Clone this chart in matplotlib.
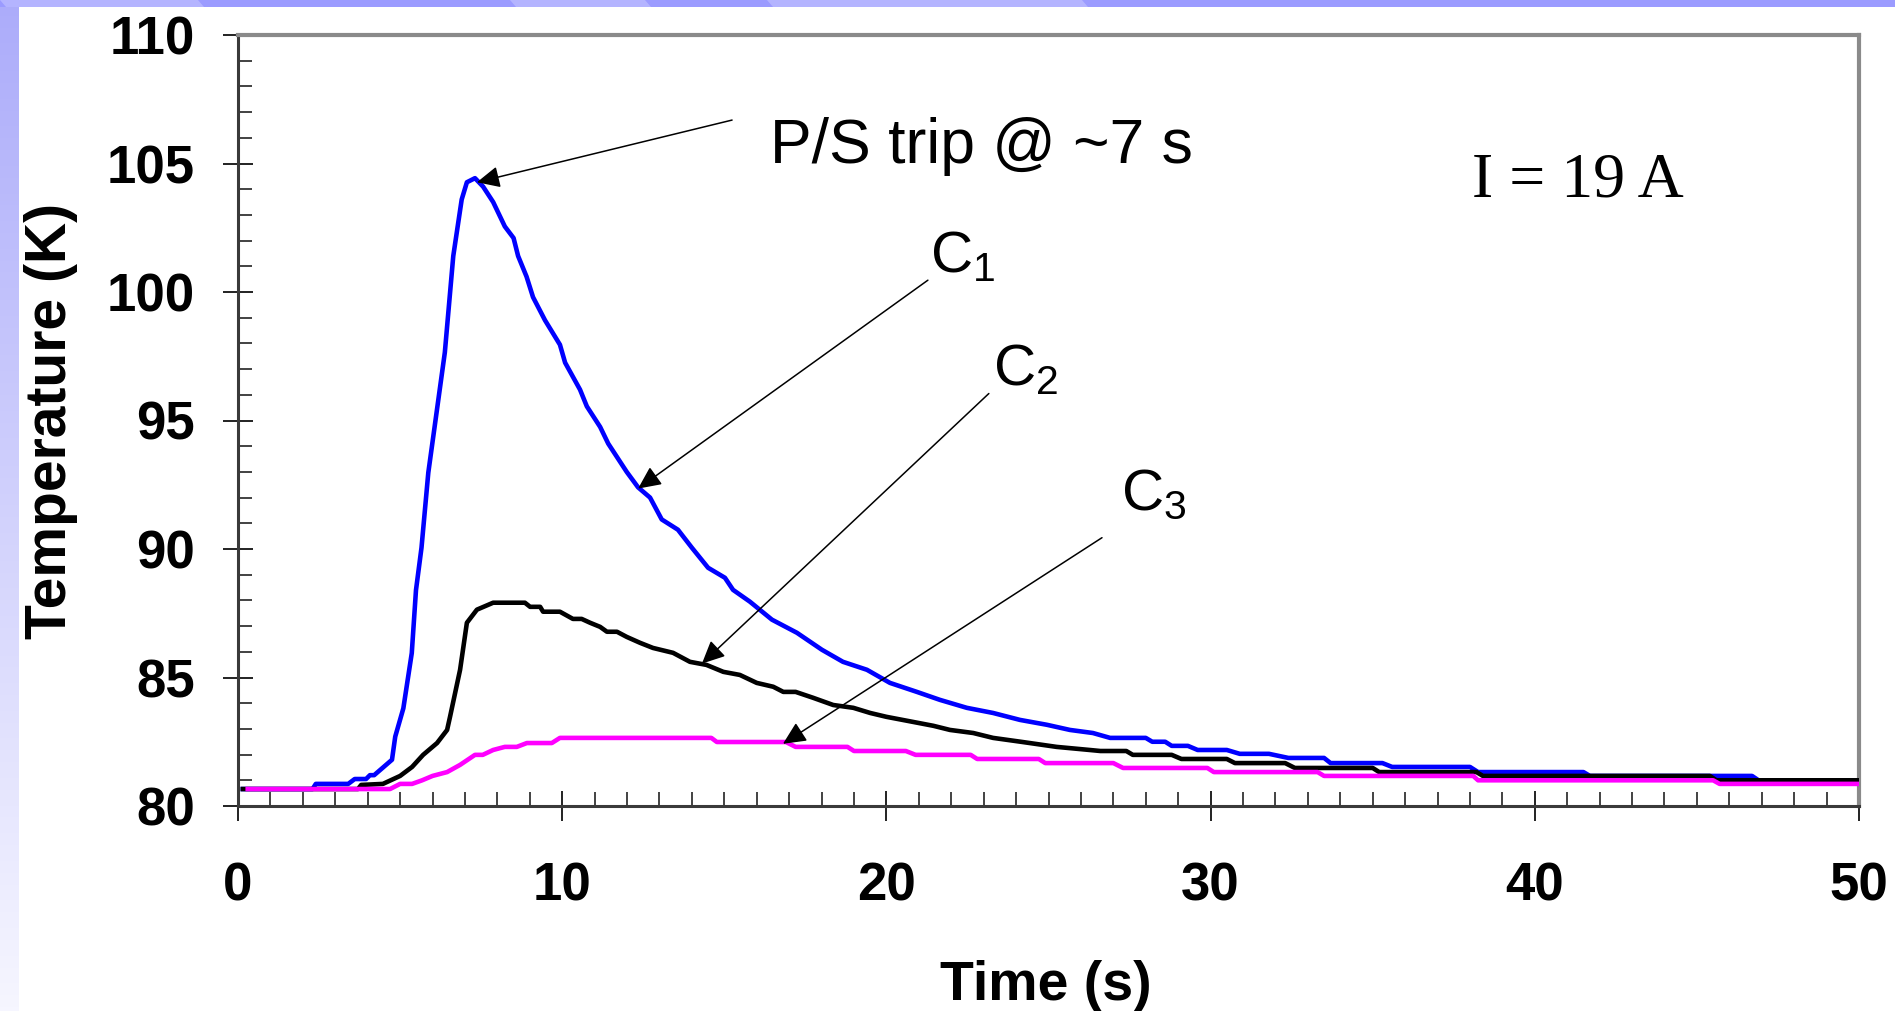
import numpy as np
import matplotlib
matplotlib.use("Agg")
import matplotlib.pyplot as plt
from matplotlib.patches import Polygon
from matplotlib.ticker import MultipleLocator

# curve readings (time in s, temperature in K)
t_c1 = [0.15, 2.3, 2.4, 3.4, 3.6, 3.95, 4.07, 4.2, 4.75, 4.85, 5.1, 5.36, 5.49, 5.66,
        5.87, 6.38, 6.64, 6.9, 7.06, 7.31, 7.56, 7.87, 8.23, 8.5, 8.64, 8.9, 9.1, 9.47,
        9.93, 10.09, 10.55, 10.76, 11.17, 11.42, 11.99, 12.34, 12.71, 13.07, 13.57, 14.0,
        14.5, 15.02, 15.27, 15.79, 16.47, 17.24, 18.01, 18.66, 19.4, 20.11, 20.94, 21.65,
        22.48, 23.29, 24.12, 24.95, 25.66, 26.37, 26.9, 28.0, 28.2, 28.6, 28.8, 29.3,
        29.6, 30.5, 30.9, 31.8, 32.4, 33.5, 33.7, 35.3, 35.6, 38.0, 38.25, 41.5, 41.7,
        46.7, 46.9, 50.0]
T_c1 = [80.66, 80.66, 80.86, 80.86, 81.05, 81.05, 81.2, 81.2, 81.8, 82.7, 83.8, 85.95,
        88.4, 90.05, 92.97, 97.65, 101.4, 103.6, 104.27, 104.43, 104.1, 103.5, 102.55,
        102.1, 101.4, 100.6, 99.8, 98.9, 97.95, 97.25, 96.2, 95.55, 94.75, 94.1, 93.0,
        92.4, 92.0, 91.15, 90.75, 90.05, 89.27, 88.88, 88.41, 87.95, 87.25, 86.74, 86.08,
        85.61, 85.3, 84.79, 84.44, 84.13, 83.82, 83.62, 83.35, 83.16, 82.96, 82.84,
        82.65, 82.65, 82.5, 82.5, 82.34, 82.34, 82.18, 82.18, 82.03, 82.03, 81.87, 81.87,
        81.67, 81.67, 81.52, 81.52, 81.32, 81.32, 81.17, 81.17, 81.0, 81.0]

t_c2 = [0.15, 3.7, 3.8, 4.47, 5.0, 5.37, 5.71, 6.14, 6.45, 6.54, 6.85, 7.06, 7.37, 7.87,
        8.85, 9.01, 9.32, 9.41, 9.93, 10.33, 10.6, 10.86, 11.17, 11.38, 11.69, 11.99,
        12.4, 12.8, 13.42, 13.94, 14.45, 14.97, 15.48, 16.0, 16.51, 16.82, 17.2, 17.74,
        18.36, 18.98, 19.5, 20.0, 20.83, 21.45, 21.96, 22.68, 23.29, 24.2, 25.25, 26.27,
        26.6, 27.4, 27.6, 28.8, 29.1, 30.5, 30.75, 32.3, 32.6, 35.0, 35.2, 38.2, 38.4,
        45.4, 45.6, 50.0]
T_c2 = [80.66, 80.66, 80.82, 80.86, 81.17, 81.52, 81.99, 82.45, 82.96, 83.47, 85.3,
        87.13, 87.64, 87.91, 87.91, 87.75, 87.75, 87.56, 87.56, 87.28, 87.28, 87.13,
        86.97, 86.78, 86.78, 86.58, 86.35, 86.15, 85.96, 85.61, 85.49, 85.22, 85.1,
        84.79, 84.64, 84.44, 84.44, 84.21, 83.93, 83.82, 83.62, 83.47, 83.27, 83.12,
        82.96, 82.84, 82.65, 82.49, 82.3, 82.18, 82.14, 82.14, 81.99, 81.99, 81.83,
        81.83, 81.67, 81.67, 81.48, 81.48, 81.32, 81.32, 81.17, 81.17, 81.0, 81.0]

t_c3 = [0.3, 4.69, 5.0, 5.37, 5.68, 6.0, 6.45, 6.85, 7.31, 7.55, 7.87, 8.23, 8.6, 8.91,
        9.68, 9.93, 14.6, 14.77, 16.9, 17.2, 18.8, 19.0, 20.6, 20.9, 22.6, 22.8, 24.7,
        24.9, 27.0, 27.3, 29.9, 30.1, 33.3, 33.5, 38.1, 38.25, 45.5, 45.7, 50.0]
T_c3 = [80.66, 80.66, 80.86, 80.86, 81.0, 81.17, 81.32, 81.6, 81.99, 81.99, 82.18, 82.3,
        82.3, 82.45, 82.45, 82.65, 82.65, 82.49, 82.49, 82.3, 82.3, 82.14, 82.14, 81.99,
        81.99, 81.83, 81.83, 81.67, 81.67, 81.48, 81.48, 81.32, 81.32, 81.17, 81.17,
        81.0, 81.0, 80.86, 80.86]

# annotation arrows: (text start, arrow tip)
arrows = [((15.24, 106.69), (7.37, 104.27)),
          ((21.28, 100.46), (12.34, 92.35)),
          ((23.16, 96.05), (14.31, 85.54)),
          ((26.65, 90.44), (16.81, 82.42))]

plt.rcParams['font.family'] = 'Liberation Sans'
plt.rcParams['mathtext.fontset'] = 'custom'
plt.rcParams['mathtext.rm'] = 'Liberation Sans'
plt.rcParams['mathtext.it'] = 'Liberation Sans'

W, H = 1895, 1011
fig = plt.figure(figsize=(W / 100, H / 100), dpi=100)
fig.patch.set_facecolor('white')

# slide decoration: left gradient strip and top band
strip = fig.add_axes([0, 0, 19 / W, 1])
grad = np.linspace(0, 1, 256)[:, None]
top_c = np.array([172, 172, 250]) / 255
bot_c = np.array([246, 246, 255]) / 255
img = top_c[None, None, :] * (1 - grad[..., None]) + bot_c[None, None, :] * grad[..., None]
strip.imshow(img, aspect='auto', extent=[0, 1, 0, 1])
strip.axis('off')

band_h = 7 / H
fig.add_artist(Polygon([[0, 1 - band_h], [1, 1 - band_h], [1, 1], [0, 1]],
                       closed=True, transform=fig.transFigure, color='#9b9bff', lw=0))
for x0, x1 in [(0, 198), (510, 645), (767, 1082)]:
    fig.add_artist(Polygon([[x0 / W, 1], [x1 / W, 1], [(x1 + 6) / W, 1 - band_h],
                            [(x0 + 6) / W, 1 - band_h]],
                           closed=True, transform=fig.transFigure, color='#b4b4ff', lw=0))

ax = fig.add_axes([238 / W, 1 - 806 / H, (1859 - 238) / W, (806 - 35) / H])
ax.plot(t_c1, T_c1, color='#0000ff', lw=3.3, zorder=3)
ax.plot(t_c2, T_c2, color='black', lw=3.3, zorder=4)
ax.plot(t_c3, T_c3, color='#ff00ff', lw=3.3, zorder=5)

ax.set_xlim(0, 50)
ax.set_ylim(80, 110)
ax.xaxis.set_major_locator(MultipleLocator(10))
ax.xaxis.set_minor_locator(MultipleLocator(1))
ax.yaxis.set_major_locator(MultipleLocator(5))
ax.yaxis.set_minor_locator(MultipleLocator(1))

ax.tick_params(which='major', direction='inout', length=22, width=1.4, color='#222222',
               labelsize=38)
ax.tick_params(which='minor', direction='in', length=10, width=1.2, color='#222222')
ax.tick_params(axis='y', which='major', pad=20)
ax.tick_params(axis='x', which='major', pad=29)
for lab in ax.get_xticklabels() + ax.get_yticklabels():
    lab.set_fontweight('bold')

for side in ['top', 'right']:
    ax.spines[side].set_color('#8a8a8a')
    ax.spines[side].set_linewidth(3)
for side in ['left', 'bottom']:
    ax.spines[side].set_color('#3a3a3a')
    ax.spines[side].set_linewidth(2.2)

ax.set_xlabel('Time (s)', fontsize=40, fontweight='bold')
ax.xaxis.set_label_coords(0.4985, -0.2516)
ax.xaxis.label.set_va('baseline')
ax.set_ylabel('Temperature (K)', fontsize=41, fontweight='bold')
ax.yaxis.set_label_coords(-0.1154, 0.5)
ax.yaxis.label.set_va('center')

for start, tip in arrows:
    ax.annotate('', xy=tip, xytext=start,
                arrowprops=dict(arrowstyle='-|>,head_length=0.7,head_width=0.33',
                                mutation_scale=20, color='black', lw=1.1,
                                shrinkA=0, shrinkB=0), zorder=6)

ax.text(16.41, 105.01, 'P/S trip @ ~7 s', fontsize=45, ha='left', va='baseline')
ax.text(38.06, 103.73, 'I = 19 A', fontsize=46, family='Liberation Serif',
        ha='left', va='baseline')
ax.text(21.35, 100.77, r'C$_{\mathrm{1}}$', fontsize=42, ha='left', va='baseline')
ax.text(23.29, 96.4, r'C$_{\mathrm{2}}$', fontsize=42, ha='left', va='baseline')
ax.text(27.24, 91.5, r'C$_{\mathrm{3}}$', fontsize=42, ha='left', va='baseline')

fig.savefig('out.png', dpi=100)
